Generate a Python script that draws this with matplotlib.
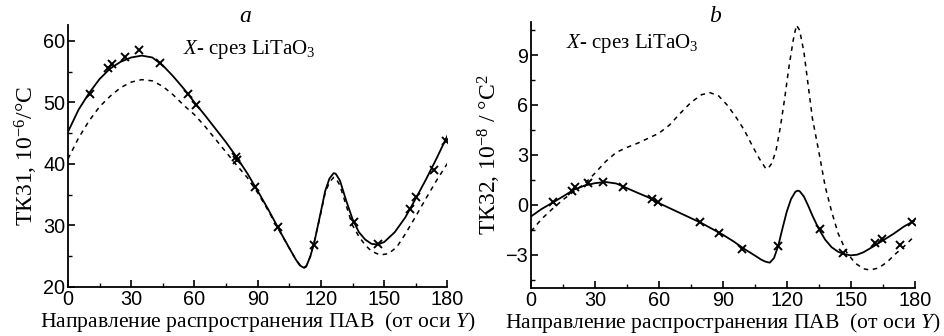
import matplotlib
matplotlib.use("Agg")
import matplotlib.pyplot as plt
from matplotlib.ticker import MultipleLocator

plt.rcParams['font.family'] = ['Liberation Serif', 'DejaVu Serif']
plt.rcParams['mathtext.fontset'] = 'custom'
plt.rcParams['mathtext.rm'] = 'Liberation Serif'
plt.rcParams['mathtext.it'] = 'Liberation Serif:italic'

# ---- Panel a: TK31 ----
a_solid_x = [0, 5, 10, 15, 20, 25, 30, 35, 40, 45, 50, 55, 60, 65, 70, 75, 80, 85, 90, 95, 100,
             105, 108, 110, 112, 113, 115, 117, 120, 122, 124, 126, 127, 129, 132, 135, 138, 141,
             144, 147, 150, 155, 160, 165, 170, 175, 180]
a_solid_y = [45.2, 48.8, 51.5, 53.8, 55.5, 56.6, 57.3, 57.6, 57.3, 56.0, 54.2, 52.2, 50.0, 47.9,
             45.7, 43.5, 41.1, 38.5, 35.6, 32.6, 29.4, 26.3, 24.5, 23.5, 23.1, 23.3, 25.0, 27.5,
             32.3, 35.6, 37.6, 38.5, 38.4, 37.3, 34.0, 31.0, 28.9, 27.7, 27.0, 26.9, 27.3, 28.9,
             31.3, 34.4, 37.6, 41.0, 44.6]
a_dash_x = [0, 5, 10, 15, 20, 25, 30, 35, 40, 45, 50, 55, 60, 65, 70, 75, 80, 85, 90, 95, 100,
            105, 108, 110, 112, 113, 115, 117, 120, 122, 124, 126, 127, 129, 132, 135, 138, 141,
            144, 148, 152, 156, 160, 165, 170, 175, 180]
a_dash_y = [40.8, 44.2, 47.0, 49.3, 51.0, 52.4, 53.3, 53.7, 53.5, 52.6, 51.2, 49.5, 48.0, 46.1,
            44.0, 41.9, 39.8, 37.8, 35.3, 32.4, 29.3, 26.3, 24.5, 23.6, 23.2, 23.4, 25.0, 27.6,
            32.1, 35.3, 37.0, 37.8, 37.7, 36.5, 33.2, 30.0, 28.2, 26.8, 25.8, 25.2, 25.4, 26.5,
            28.6, 31.5, 34.5, 37.4, 40.1]
a_mark_x = [10.4, 19.2, 20.7, 27.1, 33.9, 43.8, 57.1, 60.5, 79.8, 80.2, 88.8, 99.4, 116.5,
            135.9, 147.0, 162.4, 165.2, 173.5, 179.2]
a_mark_y = [51.4, 55.6, 56.3, 57.4, 58.5, 56.4, 51.4, 49.6, 41.2, 40.6, 36.3, 29.8, 26.8,
            30.5, 26.9, 32.6, 34.6, 39.0, 43.8]

# ---- Panel b: TK32 ----
b_solid_x = [0, 5, 10, 15, 20, 25, 30, 35, 40, 45, 50, 55, 60, 65, 70, 75, 80, 85, 90, 95, 100,
             105, 108, 110, 112, 114, 116, 118, 120, 122, 124, 125, 126, 128, 130, 132, 135, 138,
             141, 144, 147, 150, 153, 156, 160, 165, 170, 175, 180]
b_solid_y = [-0.7, -0.25, 0.12, 0.5, 0.9, 1.15, 1.3, 1.37, 1.28, 1.0, 0.72, 0.45, 0.1, -0.2,
             -0.5, -0.8, -1.1, -1.45, -1.8, -2.2, -2.65, -3.05, -3.3, -3.42, -3.48, -3.2, -2.45,
             -1.4, -0.4, 0.35, 0.78, 0.85, 0.82, 0.5, -0.05, -0.65, -1.45, -2.1, -2.55, -2.82,
             -2.97, -3.04, -3.0, -2.85, -2.55, -2.15, -1.75, -1.3, -0.95]
b_dash_x = [0, 5, 10, 15, 20, 25, 30, 35, 40, 45, 50, 55, 60, 65, 70, 75, 80, 84, 88, 92, 96,
            100, 104, 107, 110, 111, 113, 115, 117, 119, 121, 123, 124.5, 126, 128, 130, 132, 135,
            138, 141, 144, 148, 152, 156, 159, 163, 167, 171, 175, 180]
b_dash_y = [-1.6, -0.85, -0.25, 0.3, 0.8, 1.25, 1.9, 2.6, 3.15, 3.45, 3.7, 4.0, 4.3, 4.8, 5.5,
            6.15, 6.62, 6.74, 6.55, 6.0, 5.3, 4.5, 3.5, 2.8, 2.2, 2.15, 2.5, 3.3, 4.7, 6.4, 8.3,
            9.9, 10.8, 10.5, 9.2, 7.2, 5.2, 3.2, 1.1, -0.4, -1.7, -2.85, -3.5, -3.85, -3.92,
            -3.8, -3.45, -2.95, -2.5, -1.87]
b_mark_x = [10.3, 19.2, 20.5, 26.6, 33.8, 43.2, 56.8, 59.4, 79.1, 88.0, 99.0, 115.9, 135.4,
            146.2, 161.5, 164.6, 173.2, 178.7]
b_mark_y = [0.14, 0.84, 1.05, 1.29, 1.35, 1.05, 0.32, 0.14, -1.03, -1.71, -2.63, -2.47, -1.47,
            -2.92, -2.31, -2.03, -2.43, -1.03]

x_ticks = [0, 30, 60, 90, 120, 150, 180]
a_yticks = [20, 30, 40, 50, 60]
b_yticks = [-3, 0, 3, 6, 9]

xlabel = "Направление распространения ПАВ  (от оси $Y$)"

fig = plt.figure(figsize=(9.44, 3.36), dpi=100)
axa = fig.add_axes([0.072, 0.146, 0.402, 0.780])
axb = fig.add_axes([0.5625, 0.143, 0.4065, 0.792])


def style(ax):
    for s in ['top', 'right']:
        ax.spines[s].set_visible(False)
    ax.spines['left'].set_linewidth(1.3)
    ax.spines['bottom'].set_linewidth(1.3)
    ax.set_xlim(0, 180)
    ax.set_xticks(x_ticks)
    ax.xaxis.set_minor_locator(MultipleLocator(15))
    ax.tick_params(which='major', direction='in', length=5, width=1.2, pad=2)
    ax.tick_params(which='minor', direction='in', length=3, width=1.0)
    for lab in ax.get_xticklabels() + ax.get_yticklabels():
        lab.set_fontfamily('Liberation Sans')
        lab.set_fontsize(14.3)
    ax.set_xlabel(xlabel, fontsize=15.6, labelpad=1)

# Panel a
axa.plot(a_solid_x, a_solid_y, color='black', lw=1.3)
axa.plot(a_dash_x, a_dash_y, color='black', lw=1.1, dashes=(3, 3))
axa.plot(a_mark_x, a_mark_y, linestyle='none', marker='x', color='black', ms=5.5, mew=1.4)
axa.set_ylim(20, 62.6)
axa.set_yticks(a_yticks)
axa.yaxis.set_minor_locator(MultipleLocator(5))
style(axa)
axa.set_ylabel("ТК31, 10$^{-6}$/°С", fontsize=17, labelpad=2)
fig.text(245 / 944, 1 - 17 / 336, "$a$", fontsize=17, ha='center', va='center')
axa.text(0.478, 0.905, "$X$- срез LiTaO$_3$", transform=axa.transAxes, fontsize=15,
         ha='center', va='center')

# Panel b
axb.plot(b_solid_x, b_solid_y, color='black', lw=1.3)
axb.plot(b_dash_x, b_dash_y, color='black', lw=1.1, dashes=(3, 3))
axb.plot(b_mark_x, b_mark_y, linestyle='none', marker='x', color='black', ms=5.5, mew=1.4)
axb.set_ylim(-5, 11)
axb.set_yticks(b_yticks)
axb.yaxis.set_minor_locator(MultipleLocator(1.5))
style(axb)
axb.set_ylabel("ТК32, 10$^{-8}$ / °С$^2$", fontsize=17, labelpad=2)
fig.text(716 / 944, 1 - 17 / 336, "$b$", fontsize=17, ha='center', va='center')
axb.text(0.265, 0.92, "$X$- срез LiTaO$_3$", transform=axb.transAxes, fontsize=15,
         ha='center', va='center')

fig.savefig("out.png", dpi=100)
